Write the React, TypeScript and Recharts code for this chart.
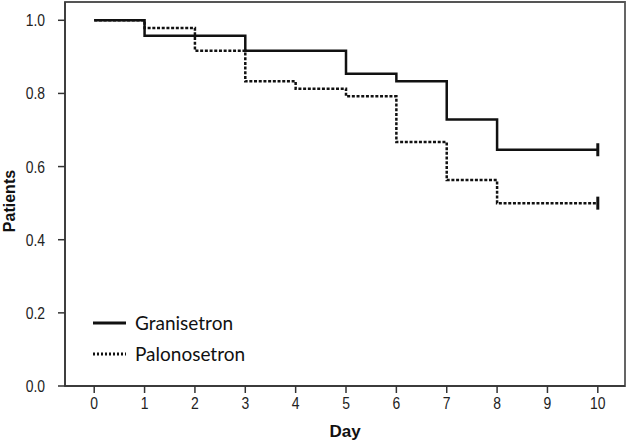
import { LineChart, Line, XAxis, YAxis, ReferenceArea } from "recharts"

const days = [0, 1, 2, 3, 4, 5, 6, 7, 8, 9, 10]
const granisetron = [1.0, 0.958, 0.958, 0.917, 0.917, 0.854, 0.833, 0.729, 0.646, 0.646, 0.646]
const palonosetron = [1.0, 0.979, 0.917, 0.833, 0.813, 0.792, 0.667, 0.563, 0.5, 0.5, 0.5]
const yTicks = [0, 0.2, 0.4, 0.6, 0.8, 1.0]

const data = days.map((d, i) => ({
  day: d,
  Granisetron: granisetron[i],
  Palonosetron: palonosetron[i],
}))

const sans = '"Liberation Sans", Arial, sans-serif'

// narrow-looking tick labels (Arial Narrow in the original)
const XTick = (props: any) => {
  const { x, y, payload } = props
  return (
    <text transform={`translate(${x}, ${y + 13}) scale(0.82, 1)`} textAnchor="middle" fontFamily={sans} fontSize={17} fill="#222">
      {payload.value}
    </text>
  )
}

const YTick = (props: any) => {
  const { x, y, payload } = props
  return (
    <text transform={`translate(${x}, ${y + 6}) scale(0.82, 1)`} textAnchor="end" fontFamily={sans} fontSize={17} fill="#222">
      {Number(payload.value).toFixed(1)}
    </text>
  )
}

// censor mark at the last observation
const censor = (props: any) => {
  const { cx, cy, index } = props
  if (index !== days.length - 1) return <g key={`c-${index}`} />
  return <line key={`c-${index}`} x1={cx} x2={cx} y1={cy - 6.5} y2={cy + 6.5} stroke="#111" strokeWidth={3} />
}

const legendItems = [
  { name: "Granisetron", dash: undefined as string | undefined },
  { name: "Palonosetron", dash: "2 2" },
]

export default function App() {
  return (
    <div style={{ position: "absolute", left: 0, top: 0, width: 628, height: 442 }}>
      <LineChart width={628} height={442} data={data} margin={{ top: 2, right: 3, left: 0, bottom: 0 }}>
        <XAxis
          dataKey="day"
          type="number"
          domain={[-0.58, 10.54]}
          ticks={days}
          allowDataOverflow
          tickSize={7}
          tickMargin={3}
          height={56}
          stroke="#333"
          strokeWidth={1.5}
          tick={<XTick />}
          label={{
            value: "Day",
            position: "insideBottom",
            offset: 5,
            style: { fontFamily: sans, fontSize: 17, fontWeight: "bold", fill: "#111" },
          }}
        />
        <YAxis
          type="number"
          domain={[0, 1.05]}
          ticks={yTicks}
          allowDataOverflow
          width={65}
          tickSize={7}
          tickMargin={13}
          stroke="#333"
          strokeWidth={1.5}
          tick={<YTick />}
          label={() => (
            <text
              x={15}
              y={201}
              transform="rotate(-90, 15, 201)"
              textAnchor="middle"
              style={{ fontFamily: sans, fontSize: 16, fontWeight: "bold", fill: "#111" }}
            >
              Patients
            </text>
          )}
        />
        <ReferenceArea x1={-0.58} x2={10.54} y1={0} y2={1.05} fill="none" stroke="#555" strokeWidth={1.8} ifOverflow="visible" />
        <Line
          type="stepAfter"
          dataKey="Granisetron"
          stroke="#111"
          strokeWidth={2.5}
          dot={censor}
          activeDot={false}
          isAnimationActive={false}
        />
        <Line
          type="stepAfter"
          dataKey="Palonosetron"
          stroke="#111"
          strokeWidth={2.5}
          strokeDasharray="3 1.7"
          dot={censor}
          activeDot={false}
          isAnimationActive={false}
        />
      </LineChart>
      <div
        style={{
          position: "absolute",
          left: 93,
          top: 307,
          fontFamily: "Lato, sans-serif",
          fontSize: 19,
          color: "#111",
        }}
      >
        {legendItems.map((e) => (
          <div key={e.name} style={{ display: "flex", alignItems: "center", height: 31 }}>
            <svg width={42} height={10}>
              <line x1={0} x2={33} y1={5} y2={5} stroke="#111" strokeWidth={3} strokeDasharray={e.dash} />
            </svg>
            <span>{e.name}</span>
          </div>
        ))}
      </div>
    </div>
  )
}
